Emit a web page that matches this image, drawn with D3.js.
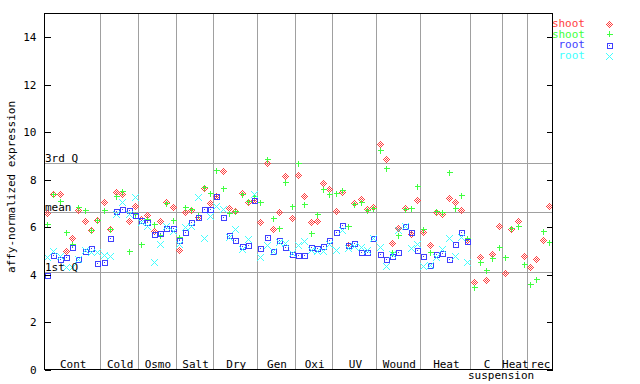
<!DOCTYPE html>
<html>
<head>
<meta charset="utf-8">
<script src="https://cdn.jsdelivr.net/npm/d3@7"></script>
<style>
  body { margin: 0; background: #fff; }
  svg text { font-family: "DejaVu Sans Mono", monospace; font-size: 11px; fill: #000; }
</style>
</head>
<body>
<svg id="chart" width="640" height="384"></svg>
<script>
// groups of samples along the x axis
var groupNames = ['Cont', 'Cold', 'Osmo', 'Salt', 'Dry', 'Gen', 'Oxi', 'UV', 'Wound', 'Heat', 'C', 'Heat', 'rec'];
var groupCounts = [9, 6, 6, 6, 7, 6, 6, 7, 7, 8, 5, 4, 4];

// expression values, one per sample
var shootA = [6.57, 7.39, 7.39, 4.98, 5.52, 6.71, 6.25, 5.84, 6.29,
  7.05, 5.90, 7.44, 7.39, 6.22, 6.88,
  6.30, 6.47, 5.83, 6.22, 7.04, 6.82,
  5.02, 6.63, 6.70, 6.40, 7.63, 6.99,
  7.29, 8.34, 6.78, 6.64, 7.40, 7.04, 7.13,
  6.20, 8.68, 5.90, 6.62, 8.14, 6.36,
  8.18, 7.29, 6.20, 6.23, 7.84, 7.59,
  6.66, 7.47, 5.24, 7.00, 7.16, 6.75, 6.82,
  9.50, 8.85, 5.30, 5.92, 6.78, 5.68, 7.13,
  5.77, 5.22, 6.60, 6.53, 7.20, 7.04, 6.71, 5.42,
  3.66, 4.71, 3.74, 4.84, 6.02,
  4.04, 5.90, 6.25, 4.76,
  4.29, 4.63, 5.45, 6.87];
var shootB = [6.12, 7.37, 7.08, 5.78, 5.25, 6.83, 6.71, 5.84, 6.29,
  6.71, 5.90, 7.27, 7.48, 4.99, 6.55,
  5.27, 6.33, 6.12, 5.63, 7.00, 6.28,
  5.56, 6.83, 6.75, 6.50, 7.67, 7.42,
  8.38, 7.63, 6.58, 6.64, 7.37, 7.06, 7.27,
  7.04, 8.85, 6.36, 5.94, 7.88, 6.87,
  8.68, 6.96, 5.73, 6.53, 7.59, 7.38,
  7.42, 7.56, 6.01, 6.97, 7.03, 6.71, 6.80,
  9.23, 8.47, 4.94, 5.65, 6.74, 6.78, 7.72,
  5.90, 4.93, 6.64, 6.63, 8.30, 6.78, 7.34, 5.52,
  3.46, 4.50, 4.18, 4.67, 5.14,
  4.71, 5.95, 6.02, 4.42,
  3.58, 3.79, 5.81, 5.35];
var rootA = [3.96, 4.80, 4.63, 4.71, 5.14, 4.63, 4.97, 5.11, 4.46,
  4.50, 5.52, 6.64, 6.74, 6.71, 6.50,
  6.26, 6.18, 5.70, 5.73, 5.94, 5.94,
  5.42, 5.78, 6.20, 6.40, 6.74, 6.74,
  7.29, 6.40, 5.63, 5.44, 5.19, 5.22, 7.13,
  5.09, 5.56, 4.99, 5.42, 5.14, 4.84,
  4.80, 4.80, 5.14, 5.09, 5.18, 5.45,
  5.77, 6.07, 5.23, 5.29, 4.93, 4.93, 5.50,
  4.84, 4.63, 4.75, 4.93, 6.01, 5.77, 5.02,
  4.76, 4.39, 4.84, 4.88, 4.64, 5.26, 5.78, 5.39];
var rootB = [4.74, 4.99, 4.77, 4.29, 4.30, 4.63, 5.00, 4.91, 4.91,
  4.80, 4.77, 6.55, 7.04, 6.52, 7.26,
  6.20, 6.04, 4.50, 5.27, 6.04, 5.80,
  5.26, 5.98, 6.03, 7.25, 5.52, 6.45,
  6.87, 6.74, 5.56, 5.90, 5.05, 5.47, 7.39,
  4.71, 5.22, 4.99, 5.35, 5.29, 4.90,
  5.22, 5.41, 5.02, 4.99, 4.99, 5.25,
  5.01, 5.84, 5.09, 5.20, 5.16, 5.02, 5.50,
  5.16, 4.34, 4.85, 5.85, 6.01, 5.09, 5.27,
  4.33, 4.39, 4.71, 5.05, 5.52, 4.77, 5.56, 4.50];

var refNames = ['3rd Q', 'mean', '1st Q'];
var refValues = [8.68, 6.61, 4.08];
var yTicks = [0, 2, 4, 6, 8, 10, 12, 14];

var series = [
  {name: 'shoot', values: shootA, color: '#ff4040', shape: 'diamond'},
  {name: 'shoot', values: shootB, color: '#40ff40', shape: 'plus'},
  {name: 'root', values: rootA, color: '#4040ff', shape: 'square'},
  {name: 'root', values: rootB, color: '#40ffff', shape: 'cross'}
];

var total = d3.sum(groupCounts);
var plotL = 44, plotR = 552, plotT = 13, plotB = 369;

var x = d3.scaleLinear().domain([0, total]).range([plotL, plotR]);
var y = d3.scaleLinear().domain([0, 15]).range([plotB, plotT]);
var px = v => Math.round(v) + 0.5;

// pixel masks for the markers, as 1px squares
function pixPath(cells) {
  return cells.map(c => 'M' + (c[0] - 0.5) + ',' + (c[1] - 0.5) + 'h1v1h-1z').join('');
}
var diamondCells = [], crossCells = [];
for (var dx = -3; dx <= 3; dx++) {
  for (var dy = -3; dy <= 3; dy++) {
    var r = Math.abs(dx) + Math.abs(dy);
    if (r <= 3 && r % 2 === 1) diamondCells.push([dx, dy]);
  }
  crossCells.push([dx, dx]);
  if (dx !== 0) crossCells.push([dx, -dx]);
}
var shapes = {
  diamond: pixPath(diamondCells),
  cross: pixPath(crossCells),
  plus: 'M-3,0H3M0,-3V3',
  square: 'M-2.5,-2.5h5v5h-5z'
};

function drawMark(sel, shape, color) {
  if (shape === 'diamond' || shape === 'cross') {
    sel.append('path').attr('d', shapes[shape]).attr('fill', color);
  } else if (shape === 'plus') {
    sel.append('path').attr('d', shapes.plus).attr('stroke', color);
  } else {
    sel.append('path').attr('d', shapes.square).attr('fill', 'none').attr('stroke', color);
    sel.append('path').attr('d', pixPath([[0, 0]])).attr('fill', color);
  }
}

var svg = d3.select('#chart');
var g = svg.append('g').attr('shape-rendering', 'crispEdges');

// group boundaries
var bounds = Array.from(d3.cumsum(groupCounts)).slice(0, -1);
g.selectAll('.vgrid')
  .data(bounds)
  .enter().append('line')
    .attr('x1', d => px(x(d))).attr('x2', d => px(x(d)))
    .attr('y1', plotT).attr('y2', plotB)
    .attr('stroke', '#a0a0a0');

g.selectAll('.hgrid')
  .data(refValues)
  .enter().append('line')
    .attr('x1', plotL).attr('x2', plotR)
    .attr('y1', d => px(y(d))).attr('y2', d => px(y(d)))
    .attr('stroke', '#a0a0a0');

svg.selectAll('.reflabel')
  .data(refValues)
  .enter().append('text')
    .attr('x', plotL + 1)
    .attr('y', d => Math.round(y(d)) - 1)
    .text((d, i) => refNames[i]);

series.forEach(function(s) {
  var pts = g.append('g').selectAll('g')
    .data(s.values)
    .enter().append('g')
      .attr('transform', (d, i) => 'translate(' + px(x(i + 0.5)) + ',' + px(y(d)) + ')');
  pts.each(function() { drawMark(d3.select(this), s.shape, s.color); });
});

// frame
g.append('rect')
  .attr('x', plotL + 0.5).attr('y', plotT + 0.5)
  .attr('width', plotR - plotL).attr('height', plotB - plotT)
  .attr('fill', 'none').attr('stroke', '#000');

// y axis ticks, both sides, pointing inward
var yAxisL = d3.axisLeft(y).tickValues(yTicks).tickSizeInner(-6).tickSizeOuter(0).tickPadding(8);
var ax = svg.append('g').attr('transform', 'translate(' + (plotL + 0.5) + ',0.5)').call(yAxisL);
ax.select('.domain').remove();
ax.selectAll('text').style('font-family', '"DejaVu Sans Mono", monospace').style('font-size', '11px');
ax.selectAll('line').attr('shape-rendering', 'crispEdges');

var yAxisR = d3.axisRight(y).tickValues(yTicks).tickSizeInner(-6).tickSizeOuter(0).tickFormat('');
var axr = svg.append('g').attr('transform', 'translate(' + (plotR + 0.5) + ',0.5)').call(yAxisR);
axr.select('.domain').remove();
axr.selectAll('line').attr('shape-rendering', 'crispEdges');

svg.append('text')
  .attr('transform', 'translate(15,187) rotate(-90)')
  .attr('text-anchor', 'middle')
  .text('affy-normalized expression');

// group labels
var starts = [0].concat(bounds);
svg.selectAll('.glabel')
  .data(groupNames)
  .enter().append('text')
    .attr('x', (d, i) => x(starts[i] + groupCounts[i] / 2) + 1)
    .attr('y', plotB - 1)
    .attr('text-anchor', 'middle')
    .text(d => d);
svg.append('text').attr('x', 468).attr('y', plotB + 10).text('suspension');

// legend
var legend = svg.selectAll('.legend')
  .data(series)
  .enter().append('g')
    .attr('transform', (d, i) => 'translate(0,' + (27 + i * 10.7) + ')');
legend.append('text')
  .attr('x', 585).attr('text-anchor', 'end')
  .style('fill', d => d.color)
  .text(d => d.name);
legend.append('g')
  .attr('shape-rendering', 'crispEdges')
  .attr('transform', (d, i) => 'translate(609.5,' + (Math.round(-3 - (27 + i * 10.7) % 1) + 0.5) + ')')
  .each(function(d) { drawMark(d3.select(this), d.shape, d.color); });
</script>
</body>
</html>
